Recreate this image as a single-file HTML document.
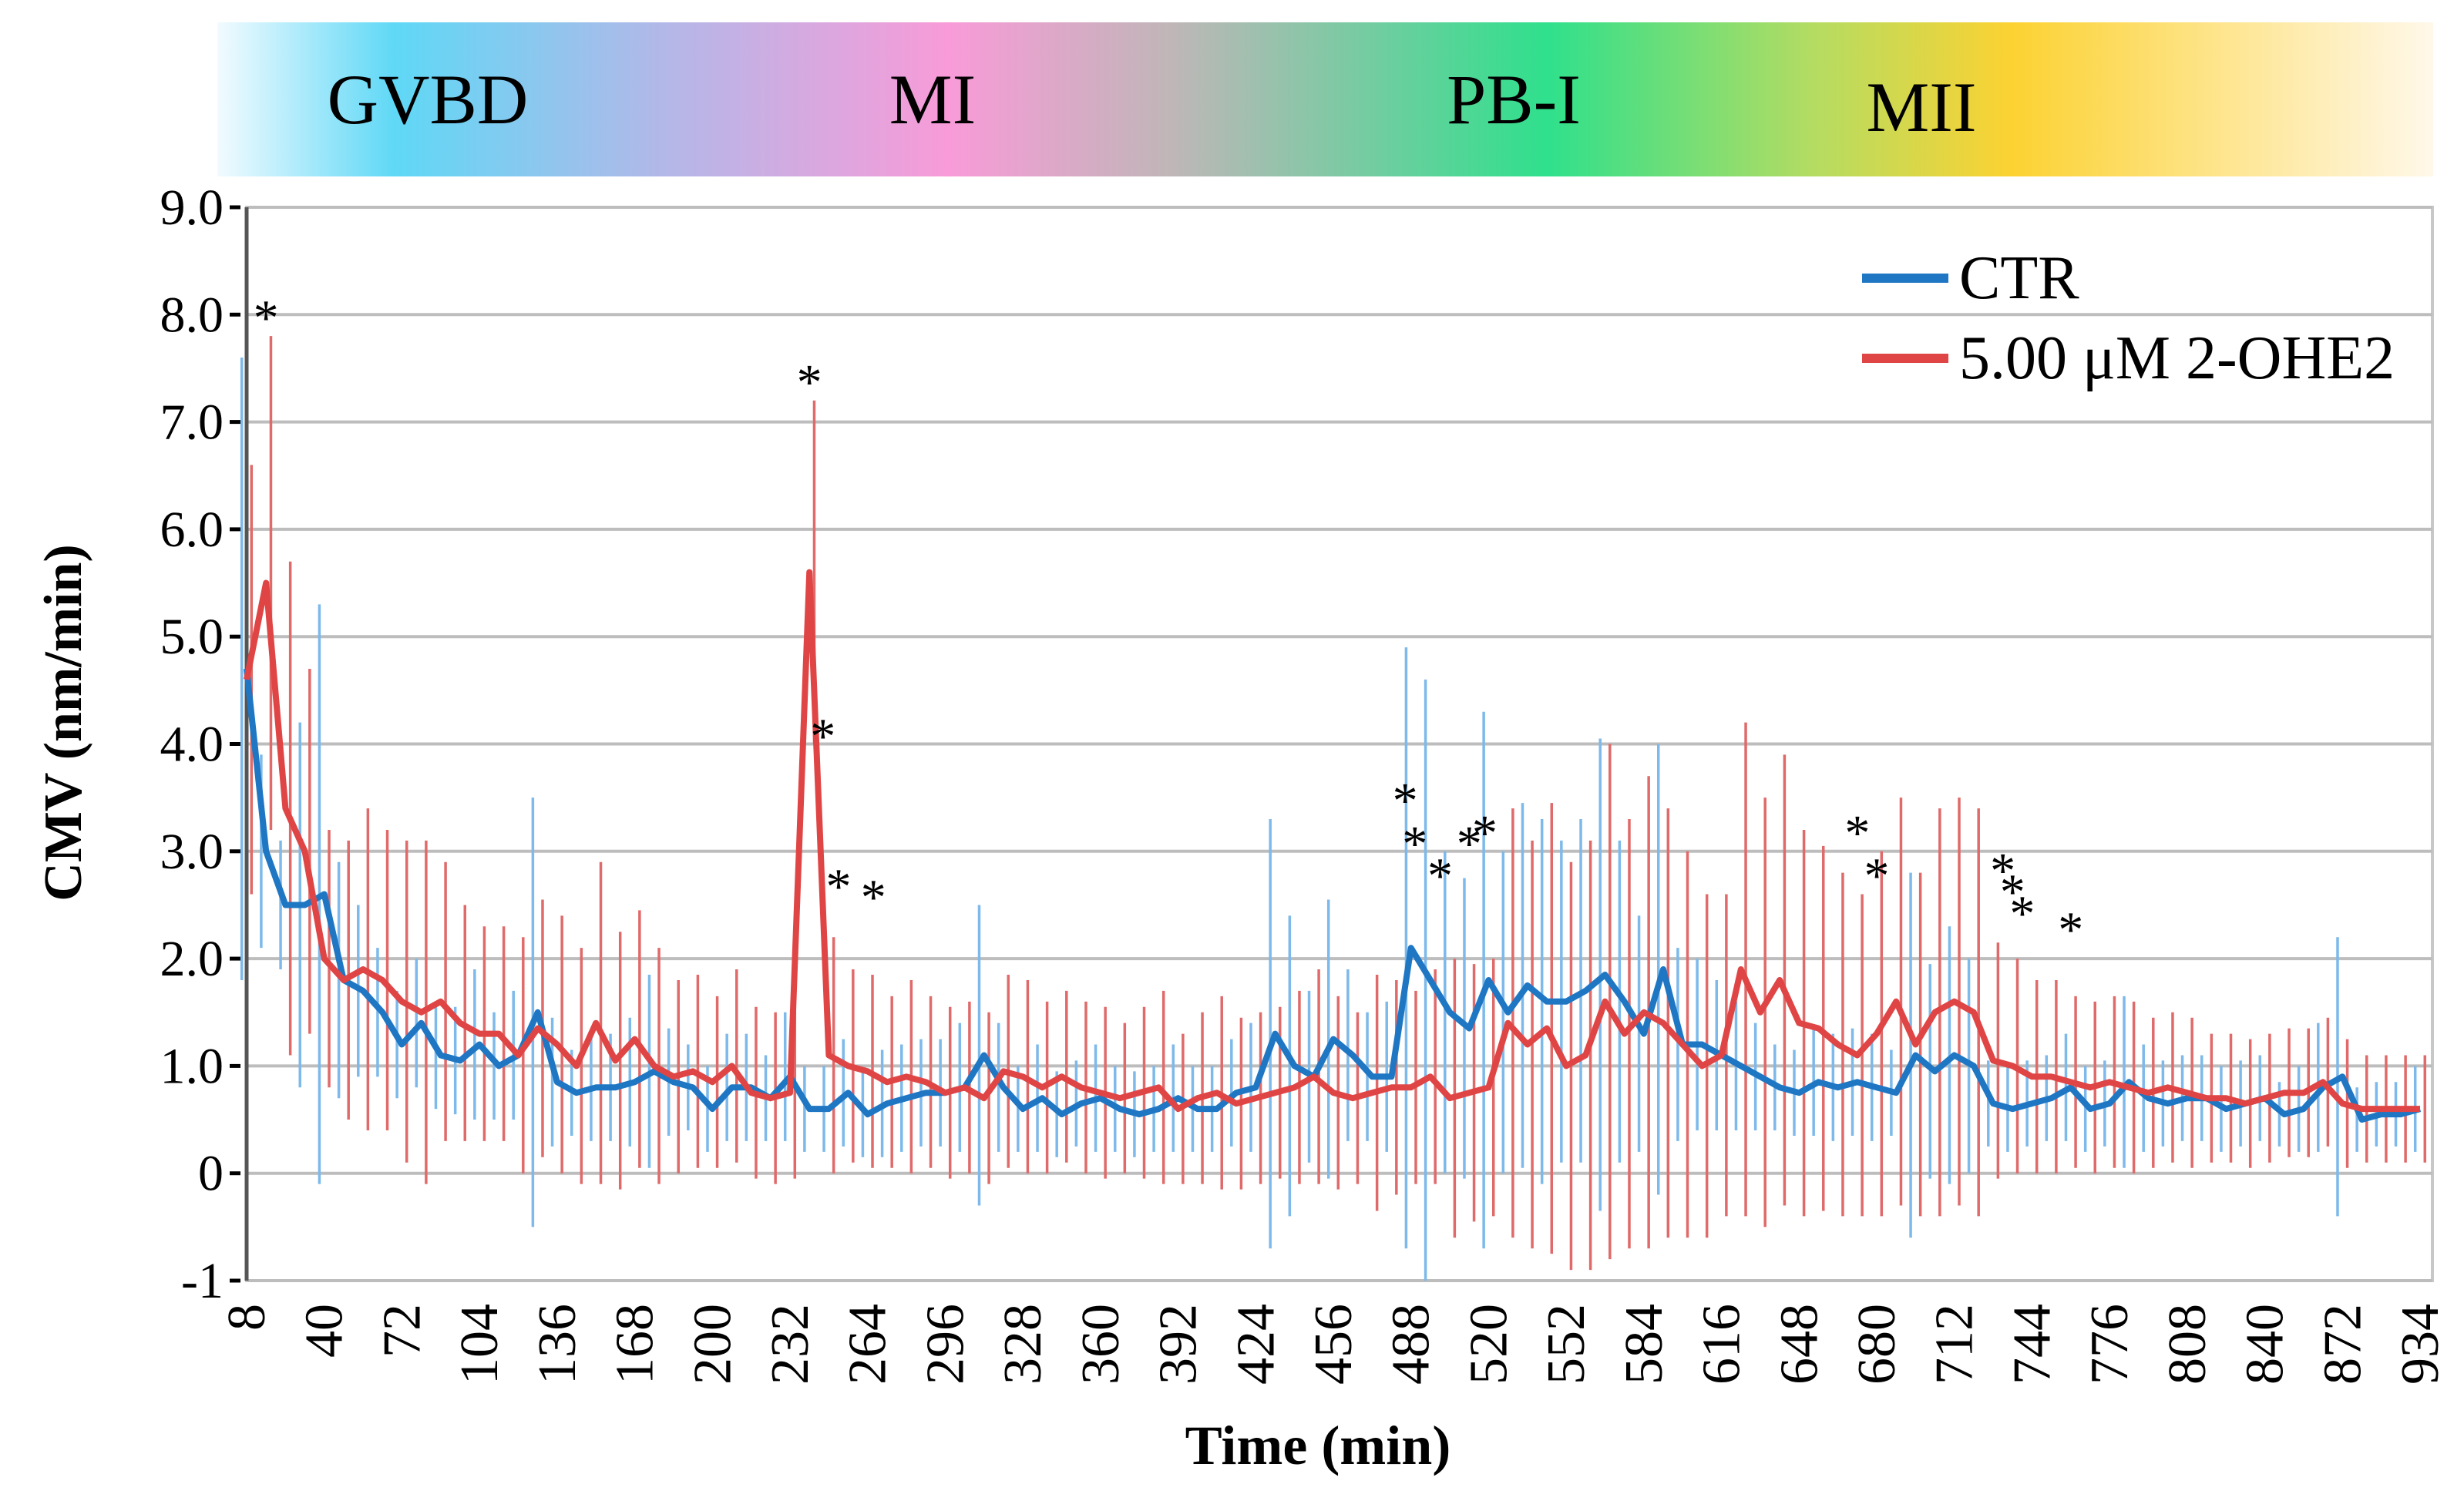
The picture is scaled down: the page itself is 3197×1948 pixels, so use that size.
<!DOCTYPE html>
<html><head><meta charset="utf-8"><style>
html,body{margin:0;padding:0;background:#fff;}
svg{display:block;}
text{font-family:"Liberation Serif",serif;}
</style></head><body>
<svg id="chart" width="3197" height="1948" viewBox="0 0 3197 1948" xmlns="http://www.w3.org/2000/svg">
<defs>
<linearGradient id="band" x1="0" x2="1" y1="0" y2="0">
<stop offset="0" stop-color="#f2fbff"/>
<stop offset="0.08" stop-color="#5fd8f6"/>
<stop offset="0.2" stop-color="#b2b8e8"/>
<stop offset="0.33" stop-color="#f89bd8"/>
<stop offset="0.43" stop-color="#c0b6b8"/>
<stop offset="0.6" stop-color="#2fe08c"/>
<stop offset="0.72" stop-color="#b4dc62"/>
<stop offset="0.81" stop-color="#fcd232"/>
<stop offset="1" stop-color="#fff8ea"/>
</linearGradient>
</defs>
<g>
<rect x="282" y="29" width="2875" height="200" fill="url(#band)"/>
<text x="555" y="160" font-size="92" text-anchor="middle">GVBD</text>
<text x="1210" y="160" font-size="92" text-anchor="middle">MI</text>
<text x="1964" y="160" font-size="92" text-anchor="middle">PB-I</text>
<text x="2493" y="170" font-size="92" text-anchor="middle">MII</text>
</g>
<g id="grid"></g>
<g id="yaxis"></g>
<g id="xaxis"></g>
<g id="errs"></g>
<g id="lines"></g>
<g id="stars"></g>
<text x="1710" y="1900" font-size="72" font-weight="bold" text-anchor="middle">Time (min)</text>
<text transform="translate(105,938) rotate(-90)" font-size="70" font-weight="bold" text-anchor="middle">CMV (nm/min)</text>
<g>
<line x1="2416" y1="361" x2="2528" y2="361" stroke="#1f77c4" stroke-width="12"/>
<text x="2542" y="387" font-size="80">CTR</text>
<line x1="2416" y1="465" x2="2528" y2="465" stroke="#e04545" stroke-width="12"/>
<text x="2542" y="491" font-size="80">5.00 μM 2-OHE2</text>
</g>
</svg>
<script>
const xLabels = ["8","40","72","104","136","168","200","232","264","296","328","360","392","424","456","488","520","552","584","616","648","680","712","744","776","808","840","872","934"];
const yTicks = [9,8,7,6,5,4,3,2,1,0,-1];
const yTickLabels = ["9.0","8.0","7.0","6.0","5.0","4.0","3.0","2.0","1.0","0","-1"];
const ctr = [4.7,3.0,2.5,2.5,2.6,1.8,1.7,1.5,1.2,1.4,1.1,1.05,1.2,1.0,1.1,1.5,0.85,0.75,0.8,0.8,0.85,0.95,0.85,0.8,0.6,0.8,0.8,0.7,0.9,0.6,0.6,0.75,0.55,0.65,0.7,0.75,0.75,0.8,1.1,0.8,0.6,0.7,0.55,0.65,0.7,0.6,0.55,0.6,0.7,0.6,0.6,0.75,0.8,1.3,1.0,0.9,1.25,1.1,0.9,0.9,2.1,1.8,1.5,1.35,1.8,1.5,1.75,1.6,1.6,1.7,1.85,1.6,1.3,1.9,1.2,1.2,1.1,1.0,0.9,0.8,0.75,0.85,0.8,0.85,0.8,0.75,1.1,0.95,1.1,1.0,0.65,0.6,0.65,0.7,0.8,0.6,0.65,0.85,0.7,0.65,0.7,0.7,0.6,0.65,0.7,0.55,0.6,0.8,0.9,0.5,0.55,0.55,0.6];
const trt = [4.6,5.5,3.4,3.0,2.0,1.8,1.9,1.8,1.6,1.5,1.6,1.4,1.3,1.3,1.1,1.35,1.2,1.0,1.4,1.05,1.25,1.0,0.9,0.95,0.85,1.0,0.75,0.7,0.75,5.6,1.1,1.0,0.95,0.85,0.9,0.85,0.75,0.8,0.7,0.95,0.9,0.8,0.9,0.8,0.75,0.7,0.75,0.8,0.6,0.7,0.75,0.65,0.7,0.75,0.8,0.9,0.75,0.7,0.75,0.8,0.8,0.9,0.7,0.75,0.8,1.4,1.2,1.35,1.0,1.1,1.6,1.3,1.5,1.4,1.2,1.0,1.1,1.9,1.5,1.8,1.4,1.35,1.2,1.1,1.3,1.6,1.2,1.5,1.6,1.5,1.05,1.0,0.9,0.9,0.85,0.8,0.85,0.8,0.75,0.8,0.75,0.7,0.7,0.65,0.7,0.75,0.75,0.85,0.65,0.6,0.6,0.6,0.6];
const ctrErr = [2.9,0.9,0.6,1.7,2.7,1.1,0.8,0.6,0.5,0.6,0.5,0.5,0.7,0.5,0.6,2.0,0.6,0.4,0.5,0.5,0.6,0.9,0.5,0.4,0.4,0.5,0.5,0.4,0.6,0.4,0.4,0.5,0.4,0.5,0.5,0.5,0.5,0.6,1.4,0.6,0.4,0.5,0.4,0.4,0.5,0.4,0.4,0.4,0.5,0.4,0.4,0.5,0.6,2.0,1.4,0.8,1.3,0.8,0.6,0.7,2.8,2.8,1.5,1.4,2.5,1.5,1.7,1.7,1.5,1.6,2.2,1.5,1.1,2.1,0.9,0.8,0.7,0.6,0.5,0.4,0.4,0.5,0.5,0.5,0.5,0.4,1.7,1.0,1.2,1.0,0.4,0.4,0.4,0.4,0.5,0.4,0.4,0.8,0.5,0.4,0.4,0.4,0.4,0.4,0.4,0.3,0.4,0.6,1.3,0.3,0.3,0.3,0.4];
const trtErr = [2.0,2.3,2.3,1.7,1.2,1.3,1.5,1.4,1.5,1.6,1.3,1.1,1.0,1.0,1.1,1.2,1.2,1.1,1.5,1.2,1.2,1.1,0.9,0.9,0.8,0.9,0.8,0.8,0.8,1.6,1.1,0.9,0.9,0.8,0.9,0.8,0.8,0.8,0.8,0.9,0.9,0.8,0.8,0.8,0.8,0.7,0.8,0.9,0.7,0.8,0.9,0.8,0.8,0.8,0.9,1.0,0.9,0.8,1.1,1.0,0.9,1.0,1.3,1.2,1.2,2.0,1.9,2.1,1.9,2.0,2.4,2.0,2.2,2.0,1.8,1.6,1.5,2.3,2.0,2.1,1.8,1.7,1.6,1.5,1.7,1.9,1.6,1.9,1.9,1.9,1.1,1.0,0.9,0.9,0.8,0.8,0.8,0.8,0.7,0.7,0.7,0.6,0.6,0.6,0.6,0.6,0.6,0.6,0.6,0.5,0.5,0.5,0.5];
const starIdx = [1,29,29.7,30.5,32.3,59.7,60.2,61.5,63,63.8,83,84,90.5,91,91.5,94];
const starVal = [8.1,7.5,4.2,2.8,2.7,3.6,3.2,2.9,3.2,3.3,3.3,2.9,2.95,2.75,2.55,2.4];

const NS="http://www.w3.org/2000/svg";
const L=320,R=3156,T=269,B=1662,XR=3140;
const nPts=113;
function xs(i){return L+i*(XR-L)/(nPts-1);}
function ys(v){return T+(9-v)*(B-T)/10;}
function mk(tag,attrs,parent){const e=document.createElementNS(NS,tag);for(const k in attrs)e.setAttribute(k,attrs[k]);parent.appendChild(e);return e;}
const grid=document.getElementById('grid'),yax=document.getElementById('yaxis'),xax=document.getElementById('xaxis');
mk('rect',{x:L,y:T,width:R-L,height:B-T,fill:'none',stroke:'#c8c8c8','stroke-width':4},grid);
yTicks.forEach((v,i)=>{
  const gl=mk('line',{x1:L,x2:R,y1:ys(v),y2:ys(v),stroke:'#bdbdbd','stroke-width':4},grid);
  
  
  const tk=mk('line',{x1:L-22,x2:L-8,y1:ys(v),y2:ys(v),stroke:'#000','stroke-width':5},yax);
  
  
  const t=mk('text',{x:L-30,y:ys(v)+22,'font-size':66,'text-anchor':'end'},yax);
  t.textContent=yTickLabels[i];
  
  
});
mk('line',{x1:L,x2:L,y1:T,y2:B,stroke:'#555','stroke-width':5},yax);
xLabels.forEach((lab,i)=>{
  const idx=i<xLabels.length-1?i*4:nPts-1;
  const x=xs(idx);
  const t=mk('text',{transform:`translate(${x+23},1692) rotate(-90)`,'font-size':70,'text-anchor':'end'},xax);
  t.textContent=lab;
  
  
});
const errs=document.getElementById('errs');
for(let i=0;i<nPts;i++){
  const off=(XR-L)/(nPts-1)*0.25;
  const eb=mk('line',{x1:xs(i)-off,x2:xs(i)-off,y1:ys(ctr[i]+ctrErr[i]),y2:ys(ctr[i]-ctrErr[i]),stroke:'#7db9ea','stroke-width':3.5},errs);
  
  
  const er=mk('line',{x1:xs(i)+off,x2:xs(i)+off,y1:ys(trt[i]+trtErr[i]),y2:ys(trt[i]-trtErr[i]),stroke:'#e06a6a','stroke-width':3.5},errs);
  
  
}
const lines=document.getElementById('lines');
function path(arr){return arr.map((v,i)=>(i?'L':'M')+xs(i).toFixed(1)+' '+ys(v).toFixed(1)).join(' ');}
const pc=mk('path',{d:path(ctr),fill:'none',stroke:'#1f77c4','stroke-width':8,'stroke-linejoin':'round'},lines);


const pt=mk('path',{d:path(trt),fill:'none',stroke:'#e04545','stroke-width':8,'stroke-linejoin':'round'},lines);


const stars=document.getElementById('stars');
starIdx.forEach((s,i)=>{
  const t=mk('text',{x:xs(s),y:ys(starVal[i])+40,'font-size':66,'text-anchor':'middle','font-family':'Liberation Sans, sans-serif'},stars);
  t.textContent='*';
  
  
});
</script>
</body></html>
